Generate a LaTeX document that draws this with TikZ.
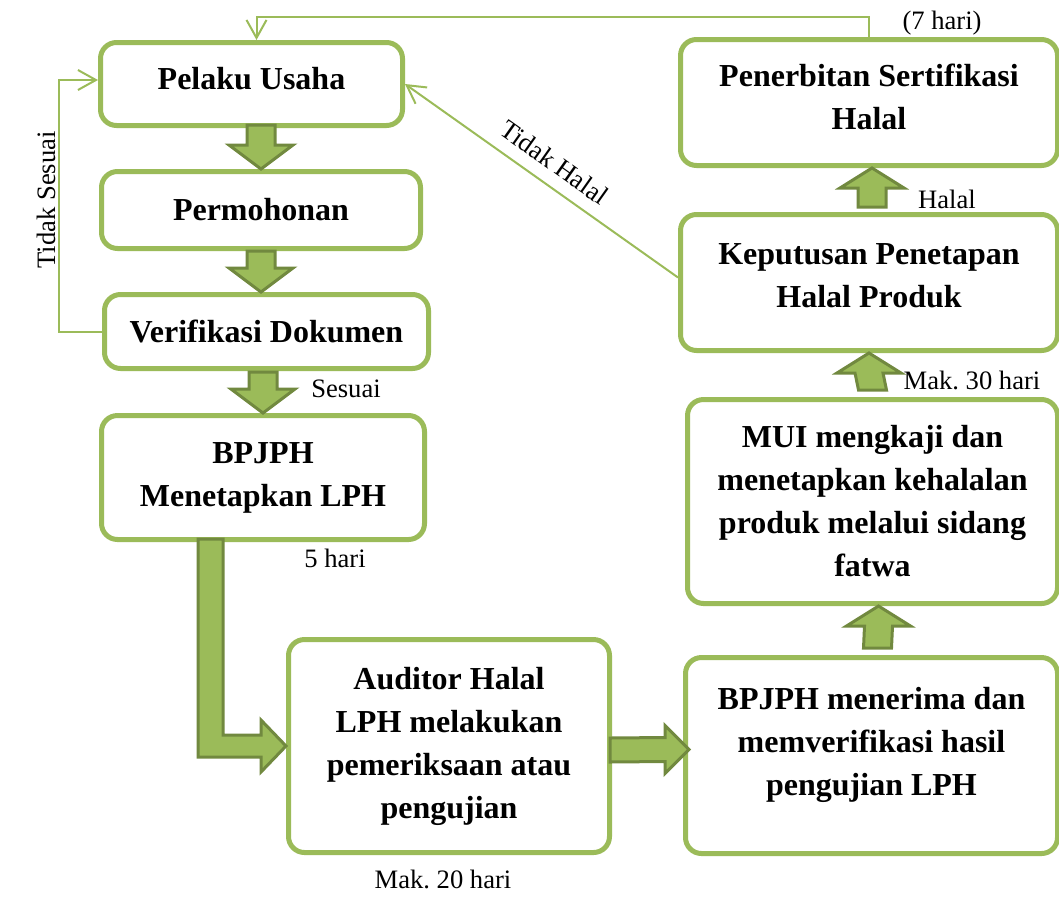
\documentclass[tikz,border=0pt]{standalone}
\usepackage{fontspec}
\setmainfont{Liberation Serif}
\usepackage{tikz}
\usetikzlibrary{arrows.meta, calc}
\definecolor{hgreen}{HTML}{9BBB59}
\definecolor{hdark}{HTML}{71893F}
% block arrows: start of shaft, tip, head offset
\newcommand{\vblock}[3]{\draw[fatarrow] ($(#1)+(-14,0)$) -- ($(#1)+(14,0)$) -- ($(#2)+(14,#3)$)
  -- ($(#2)+(32,#3)$) -- (#2) -- ($(#2)+(-32,#3)$) -- ($(#2)+(-14,#3)$) -- cycle;}
\newcommand{\hblock}[2]{\draw[fatarrow] ($(#1)+(0,-12)$) -- ($(#2)+(-24,-12)$) -- ($(#2)+(-24,-24)$)
  -- (#2) -- ($(#2)+(-24,24)$) -- ($(#2)+(-24,12)$) -- ($(#1)+(0,12)$) -- cycle;}

\begin{document}
\begin{tikzpicture}[x=0.5pt, y=-0.5pt,
  box/.style={rectangle, draw=hgreen, rounded corners=8pt, line width=2.5pt, fill=white,
              align=center, font=\fontsize{16}{21.5}\selectfont\bfseries},
  lbl/.style={font=\fontsize{13.3}{16}\selectfont, inner sep=1pt},
  fatarrow/.style={fill=hgreen, draw=hdark, line width=1.5pt, line join=miter},
  thinline/.style={draw=hgreen, line width=1pt, -{Straight Barb[length=9pt,width=10pt]}}]

  \useasboundingbox (0,0) rectangle (1059,922);

  \node[box, minimum width=151pt, minimum height=41.5pt, text depth=6pt] (PU) at (251.5,84) {Pelaku Usaha};
  \node[box, minimum width=159.5pt, minimum height=38.5pt] (PM) at (261,210) {Permohonan};
  \node[box, minimum width=162pt, minimum height=37pt] (VD) at (266.5,331.5) {Verifikasi Dokumen};
  \node[box, minimum width=161.5pt, minimum height=62pt] (LPH) at (263,477.5) {BPJPH\\Menetapkan LPH};
  \node[box, minimum width=160.5pt, minimum height=106.5pt] (AUD) at (449,746)
       {Auditor Halal\\LPH melakukan\\pemeriksaan atau\\pengujian};
  \node[box, minimum width=186pt, minimum height=98pt, text depth=14.5pt] (VER) at (871.5,755.5)
       {BPJPH menerima dan\\memverifikasi hasil\\pengujian LPH};
  \node[box, minimum width=185pt, minimum height=102pt] (MUI) at (872.5,501.5)
       {MUI mengkaji dan\\menetapkan kehalalan\\produk melalui sidang\\fatwa};
  \node[box, minimum width=188.5pt, minimum height=68pt, text depth=7pt] (KEP) at (869,282.5)
       {Keputusan Penetapan\\Halal Produk};
  \node[box, minimum width=188.5pt, minimum height=63pt, text depth=6pt] (SH) at (869,102.5)
       {Penerbitan Sertifikasi\\Halal};

  \vblock{$(PU.south -| PM.north)+(0,-3)$}{PM.north}{-24}
  \vblock{PM.south}{VD.north -| PM.south}{-24}
  \vblock{$(VD.south -| LPH.north)+(0,1)$}{LPH.north}{-24}
  \draw[fatarrow] ($(LPH.south west)+(99,-3)$) coordinate (l0) -- ++(25,0)
    |- ($(AUD.west)+(-25,-11)$) -- ++(0,-15) -- (AUD.west) -- ($(AUD.west)+(-25,26)$)
    -- ++(0,-15) -| (l0) -- cycle;
  \hblock{$(AUD.east)+(-2,4)$}{$(AUD.east |- VER.west)+(77,-6)$}
  \vblock{$(VER.north)+(6,-7)$}{$(MUI.south)+(6,0)$}{20}
  \vblock{$(MUI.north)+(0,-7)$}{KEP.south}{20}
  \vblock{$(KEP.north)+(3,-5)$}{$(SH.south)+(3,0)$}{20}

  \draw[thinline] (VD.west) -- ++(-43,0) |- ($(PU.west)+(0,-4)$)
    node[lbl, pos=0.25, above=3pt, rotate=90] {Tidak Sesuai};
  \draw[thinline] (SH.north) -- ++(0,-20) -| ($(PU.north)+(5,0)$);
  \draw[thinline] ($(KEP.west)+(0,-5)$) -- (PU.east)
    node[lbl, sloped, pos=0.5, above=5pt] {Tidak Halal};

  \node[lbl] (sesuai) at (346,389) {Sesuai};
  \node[lbl] (lima) at (335,558) {5 hari};
  \node[lbl] (dua) at (443,879) {Mak.\ 20 hari};
  \node[lbl] (tiga) at (972,380) {Mak.\ 30 hari};
  \node[lbl] (halal) at (947,199) {Halal};
  \node[lbl] (tujuh) at (942,23) {(7 hari)};
\end{tikzpicture}
\end{document}
